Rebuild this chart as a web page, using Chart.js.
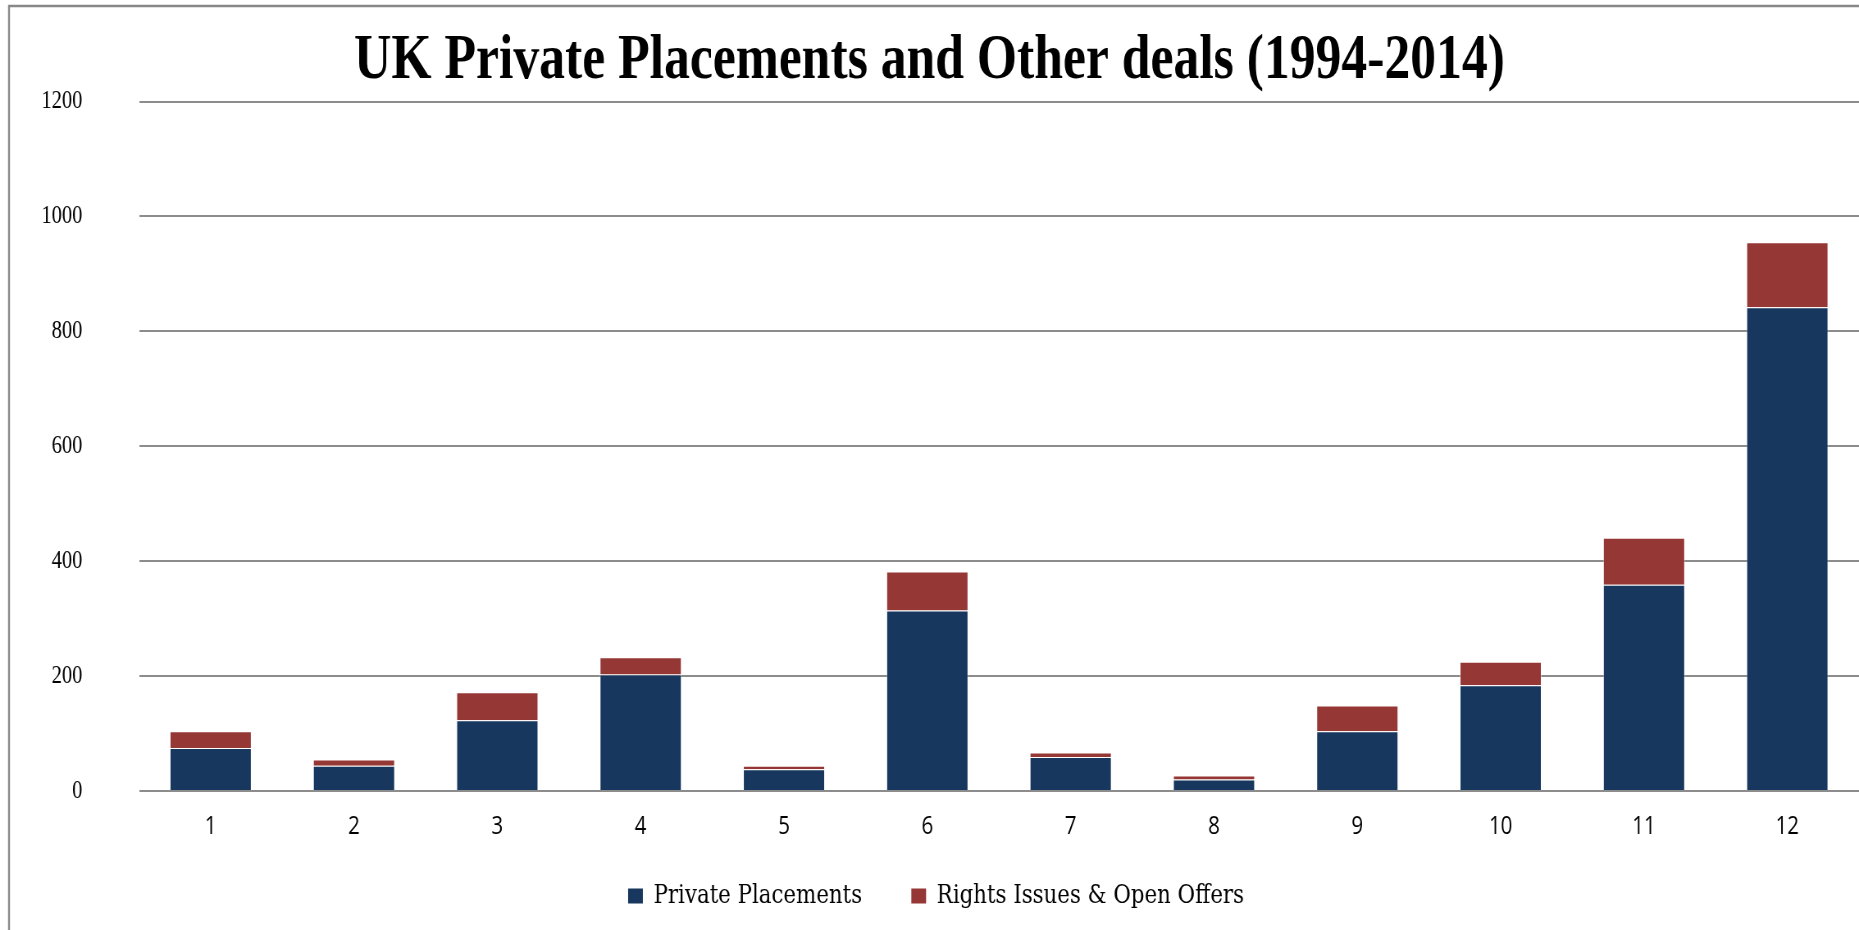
<!DOCTYPE html>
<html>
<head>
<meta charset="utf-8">
<script src="https://cdn.jsdelivr.net/npm/chart.js@4.4.1/dist/chart.umd.min.js"></script>
<style>
  html, body { margin: 0; padding: 0; background: #fff; overflow: hidden; }
  canvas { display: block; }
</style>
</head>
<body>
<!-- drawn wide and squeezed to 1859px so the serif text comes out condensed -->
<canvas id="dealsChart" width="2267" height="930" style="width:1859px;height:930px"></canvas>
<script>
const categories = ['1', '2', '3', '4', '5', '6', '7', '8', '9', '10', '11', '12'];
const privatePlacements = [75, 44, 123, 203, 38, 314, 59, 20, 104, 184, 359, 842];
const rightsIssues = [29, 11, 49, 30, 6, 68, 8, 7, 45, 41, 82, 113];
const yTicks = [0, 200, 400, 600, 800, 1000, 1200];

const squeeze = 1859 / 2267;

// grey frame along the left and top edge
const framePlugin = {
    id: 'frame',
    beforeDraw(chart) {
        const c = chart.ctx;
        c.save();
        c.strokeStyle = '#888888';
        c.lineWidth = 2.4;
        c.beginPath();
        c.moveTo(9 / squeeze, chart.height);
        c.lineTo(9 / squeeze, 6);
        c.lineTo(chart.width, 6);
        c.stroke();
        c.restore();
    }
};

// nudge the legend right, and let the x labels run into the legend's top padding
const layoutTweaks = {
    id: 'layoutTweaks',
    afterLayout(chart) {
        chart.legend.left += 8;
        chart.legend.right += 8;
        chart.scales.x.bottom += 24;
    }
};

const ctx = document.getElementById('dealsChart').getContext('2d');

const dealsChart = new Chart(ctx, {
    type: 'bar',
    data: {
        labels: categories,
        datasets: [{
            label: 'Private Placements',
            data: privatePlacements,
            backgroundColor: '#17375E',
            borderColor: 'rgba(255, 255, 255, 0.45)',
            borderWidth: 1
        }, {
            label: 'Rights Issues & Open Offers',
            data: rightsIssues,
            backgroundColor: '#953735',
            borderColor: 'rgba(255, 255, 255, 0.45)',
            borderWidth: 1
        }]
    },
    options: {
        responsive: false,
        animation: false,
        devicePixelRatio: 1,
        layout: {
            padding: { left: 0, right: 0, top: 24, bottom: 11 }
        },
        datasets: {
            bar: {
                categoryPercentage: 1,
                barPercentage: 0.572
            }
        },
        scales: {
            x: {
                stacked: true,
                grid: { display: false },
                border: { display: false },
                afterFit: axis => {
                    axis.height = 32;
                },
                ticks: {
                    color: '#000',
                    padding: 13,
                    font: { family: 'Open Sans', size: 25 }
                }
            },
            y: {
                stacked: true,
                min: 0,
                max: 1200,
                afterBuildTicks: axis => {
                    axis.ticks = yTicks.map(v => ({ value: v }));
                },
                afterFit: axis => {
                    axis.width = 169.5;
                },
                grid: {
                    color: '#8c8c8c',
                    lineWidth: 2,
                    drawTicks: false
                },
                border: { display: false },
                ticks: {
                    color: '#000',
                    padding: 69,
                    font: { family: 'Liberation Serif', size: 25 },
                    callback: value => String(value)
                }
            }
        },
        plugins: {
            title: {
                display: true,
                text: 'UK Private Placements and Other deals (1994-2014)',
                color: '#000',
                font: { family: 'Liberation Serif', size: 63, weight: 'bold' },
                padding: { top: 0, bottom: 2 }
            },
            legend: {
                position: 'bottom',
                labels: {
                    color: '#000',
                    boxWidth: 18,
                    boxHeight: 15,
                    padding: 60,
                    font: { family: 'DejaVu Serif', size: 26 },
                    generateLabels: chart => Chart.defaults.plugins.legend.labels.generateLabels(chart)
                        .map(item => Object.assign(item, { lineWidth: 0 }))
                }
            },
            tooltip: { enabled: false }
        }
    },
    plugins: [framePlugin, layoutTweaks]
});
</script>
</body>
</html>
